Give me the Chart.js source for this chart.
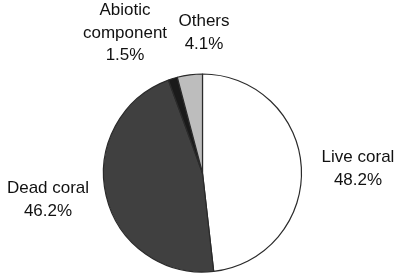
<!DOCTYPE html>
<html>
<head>
<meta charset="utf-8">
<script src="https://cdn.jsdelivr.net/npm/chart.js@4/dist/chart.umd.min.js"></script>
<style>
  html, body { margin: 0; padding: 0; background: #fff; }
  #wrap { width: 400px; height: 278px; }
</style>
</head>
<body>
<div id="wrap"><canvas id="myChart" width="400" height="278"></canvas></div>
<script>
const categories = ["Live coral", "Dead coral", "Abiotic component", "Others"];
const shares = [48.2, 46.2, 1.5, 4.1];
const labelLines = [["Live coral"], ["Dead coral"], ["Abiotic", "component"], ["Others"]];

const sliceColors = ["#ffffff", "#404040", "#1a1a1a", "#bdbdbd"];
// where each label block sits (center x, first baseline y)
const labelSpots = [[358, 162], [48, 193], [125, 15], [204, 26]];

const pieLabels = {
  id: "pieLabels",
  afterDraw(chart) {
    const ctx = chart.ctx;
    ctx.save();
    ctx.font = "17px 'Liberation Sans', Arial, sans-serif";
    ctx.fillStyle = "#111";
    ctx.textAlign = "center";
    ctx.textBaseline = "alphabetic";
    labelLines.forEach((lines, i) => {
      const [x, y] = labelSpots[i];
      const all = lines.concat([shares[i].toFixed(1) + "%"]);
      all.forEach((t, k) => ctx.fillText(t, x, y + k * 22.5));
    });
    ctx.restore();
  },
};

const ctx = document.getElementById("myChart");
const myChart = new Chart(ctx, {
  type: "pie",
  data: {
    labels: categories,
    datasets: [
      {
        data: shares,
        backgroundColor: sliceColors,
        borderColor: "#2a2a2a",
        borderWidth: 1.2,
        radius: 99,
        hoverOffset: 0,
      },
    ],
  },
  options: {
    responsive: false,
    animation: false,
    layout: { padding: { left: 104, right: 99, top: 74, bottom: 6 } },
    plugins: {
      legend: { display: false },
      tooltip: { enabled: false },
    },
  },
  plugins: [pieLabels],
});
</script>
</body>
</html>
